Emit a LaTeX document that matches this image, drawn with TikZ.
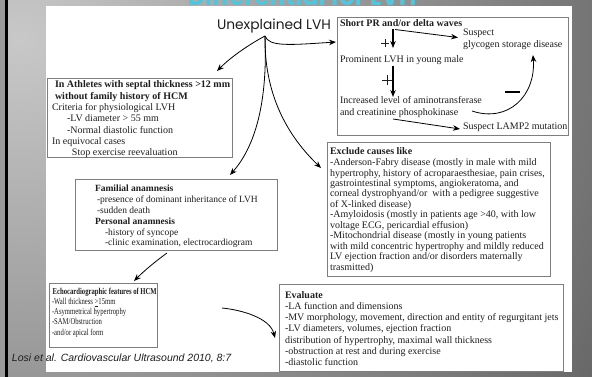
\documentclass[tikz,border=0pt]{standalone}
\usepackage{fontspec}
\usepackage{graphicx}
\setmainfont{Liberation Serif}
\newfontfamily\gothic{Poppins}
\newfontfamily\citefont{Liberation Sans}
\usetikzlibrary{arrows.meta,calc}
\definecolor{bgdark}{HTML}{4E4E4E}
\definecolor{bglight}{HTML}{C8C8C8}
\definecolor{edgegray}{HTML}{9A9A9A}
\definecolor{boxline}{HTML}{7E7E7E}
\definecolor{ink}{HTML}{1E1E1E}
\definecolor{titlecyan}{HTML}{55C3DA}
\newcommand\txtblock[4]{\parbox[t]{#1}{\fontsize{#2}{#3}\selectfont #4}}
\begin{document}
\begin{tikzpicture}[x=1pt,y=-1pt,
  box/.style={draw=boxline, line width=0.7pt, fill=white, inner sep=0pt, outer sep=0pt, anchor=north west},
  txt/.style={anchor=base west, inner sep=0pt, outer sep=0pt, text=ink, font=\fontsize{10}{12}\selectfont},
  conn/.style={draw=black, line width=0.8pt, -{Stealth[length=7pt,width=5.5pt]}},
  bigconn/.style={conn, line width=1.2pt},
  signline/.style={draw=ink, line width=0.6pt}
]
\useasboundingbox (0,0) rectangle (592,377);
\clip (0,0) rectangle (592,377);
% background
\fill[bgdark] (0,0) rectangle (592,377);
\begin{scope}
  \clip (7,0) rectangle (592,377);
  \shade[inner color=bglight, outer color=bgdark] (20,40) circle (840);
\end{scope}
\fill[edgegray] (0,0) rectangle (5,377);
\fill[black] (5,0) rectangle (7.5,377);
% title (mostly hidden)
\node[anchor=base, inner sep=0pt, text=titlecyan, font=\gothic\bfseries\fontsize{24}{26}\selectfont] (title) at (302,5.5) {Differential for LVH};
% slide
\fill[white] (46,6) rectangle (572,372);

% boxes
\node[box, minimum width=231pt, minimum height=118pt] (A) at (337,17) {};
\node[box, minimum width=185pt, minimum height=79pt] (B) at (47,78) {};
\node[box, minimum width=223pt, minimum height=134pt] (C) at (327,142) {};
\node[box, minimum width=202pt, minimum height=71pt] (D) at (75,179) {};
\node[box, minimum width=108pt, minimum height=64pt] (E) at (49,283) {};
\node[box, minimum width=284pt, minimum height=87pt] (F) at (279,284) {};

% root text
\node[txt, font=\gothic\fontsize{13.8}{16}\selectfont] (ulvh) at (217,29.5) {Unexplained LVH};

% box A texts
\node[txt, font=\bfseries\fontsize{10}{12}\selectfont] (a1) at (340,27) {Short PR and/or delta waves};
\node[txt] (a2) at (463,36) {Suspect};
\node[txt] (a3) at (463,48) {glycogen storage disease};
\node[txt] (a4) at (340,63) {Prominent LVH in young male};
\node[txt] (a5) at (340,104) {\txtblock{150pt}{10}{11.5}{Increased level of aminotransferase\\and creatinine phosphokinase}};
\node[txt] (a6) at (463,130) {Suspect LAMP2 mutation};

% box B text
\node[txt] (tB) at (52,88) {\txtblock{200pt}{10}{11.3}{\hspace*{3pt}\textbf{In Athletes with septal thickness >12 mm}\\
\hspace*{3pt}\textbf{without family history of HCM}\\
Criteria for physiological LVH\\
\hspace*{15pt}-LV diameter > 55 mm\\
\hspace*{15pt}-Normal diastolic function\\
In equivocal cases\\
\hspace*{20pt}Stop exercise reevaluation}};

% box C text
\node[txt] (tC) at (330,155) {\txtblock{230pt}{10}{10.5}{\textbf{Exclude causes like}\\
-Anderson-Fabry disease (mostly in male with mild\\
hypertrophy, history of acroparaesthesiae, pain crises,\\
gastrointestinal symptoms, angiokeratoma, and\\
corneal dystrophyand/or~ with a pedigree suggestive\\
of X-linked disease)\\
-Amyloidosis (mostly in patients age >40, with low\\
voltage ECG, pericardial effusion)\\
-Mitochondrial disease (mostly in young patients\\
with mild concentric hypertrophy and mildly reduced\\
LV ejection fraction and/or disorders maternally\\
trasmitted)}};

% box D text
\node[txt] (tD) at (95,192) {\txtblock{200pt}{9.5}{10.8}{\textbf{Familial anamnesis}\\
\hspace*{2pt}-presence of dominant inheritance of LVH\\
\hspace*{2pt}-sudden death\\
\textbf{Personal anamnesis}\\
\hspace*{10pt}-history of syncope\\
\hspace*{10pt}-clinic examination, electrocardiogram}};

% box E text (horizontally condensed, as in the reference)
\node[txt] (tE) at (52,294) {\scalebox{0.74}[1]{\txtblock{160pt}{9}{10.3}{\hspace*{1pt}\textbf{Echocardiographic features of HCM}\\
-Wall thickness \underline{>}15mm\\
-Asymmetrical hypertrophy\\
-SAM/Obstruction\\
-and/or apical form}}};

% box F text
\node[txt] (tF) at (285,298) {\txtblock{290pt}{10}{11.3}{\textbf{Evaluate}\\
-LA function and dimensions\\
-MV morphology, movement, direction and entity of regurgitant jets\\
-LV diameters, volumes, ejection fraction\\
distribution of hypertrophy, maximal wall thickness\\
-obstruction at rest and during exercise\\
-diastolic function}};

% citation
\node[txt, font=\citefont\itshape\fontsize{10.5}{12}\selectfont] (cite) at (12,361.5) {Losi et al. Cardiovascular Ultrasound 2010, 8:7};

% connector points
\coordinate (root) at (265,36);
\coordinate (tipB) at (217,71);
\coordinate (tipA) at (336,42);
\coordinate (tipD) at (230,175);
\coordinate (tipC) at (321,168);
\coordinate (deS) at (167,253);
\coordinate (deT) at (134,281);
\coordinate (efS) at (222,308);
\coordinate (efT) at (275,338);
\coordinate (pv1) at (393,29.5);
\coordinate (pv1t) at (393,48);
\coordinate (pv2) at (393,66);
\coordinate (pv2t) at (393,97);
\coordinate (ps1) at (395,29.5);
\coordinate (ps1t) at (458,37.5);
\coordinate (pl1) at (393,119);
\coordinate (pl1t) at (460,129);
\coordinate (pc1) at (472,111);
\coordinate (pc1t) at (533,55);

% main connectors
\draw[conn] (root) .. controls (250,44) and (232,56) .. (tipB);
\draw[conn] (root) .. controls (269,47) and (290,45) .. (tipA);
\draw[conn] (root) .. controls (268,110) and (252,150) .. (tipD);
\draw[conn] (root) .. controls (264,100) and (292,140) .. (tipC);
\draw[conn] (deS) .. controls (156,261) and (145,270) .. (deT);
\draw[conn] (efS) .. controls (242,310) and (270,318) .. (efT);

% inner connectors of box A
\draw[bigconn] (pv1) -- (pv1t);
\draw[bigconn] (pv2) -- (pv2t);
\draw[conn] (ps1) -- (ps1t);
\draw[conn] (pl1) -- (pl1t);
\draw[conn] (pc1) .. controls (508,123) and (536,96) .. (pc1t);

% plus and minus signs
\draw[signline] (381,43) -- (389,43) (385,39) -- (385,47);
\draw[signline] (382,80) -- (392,80) (387,75) -- (387,85);
\draw[draw=black, line width=1.6pt] (505,92) -- (520,92);
\end{tikzpicture}
\end{document}
